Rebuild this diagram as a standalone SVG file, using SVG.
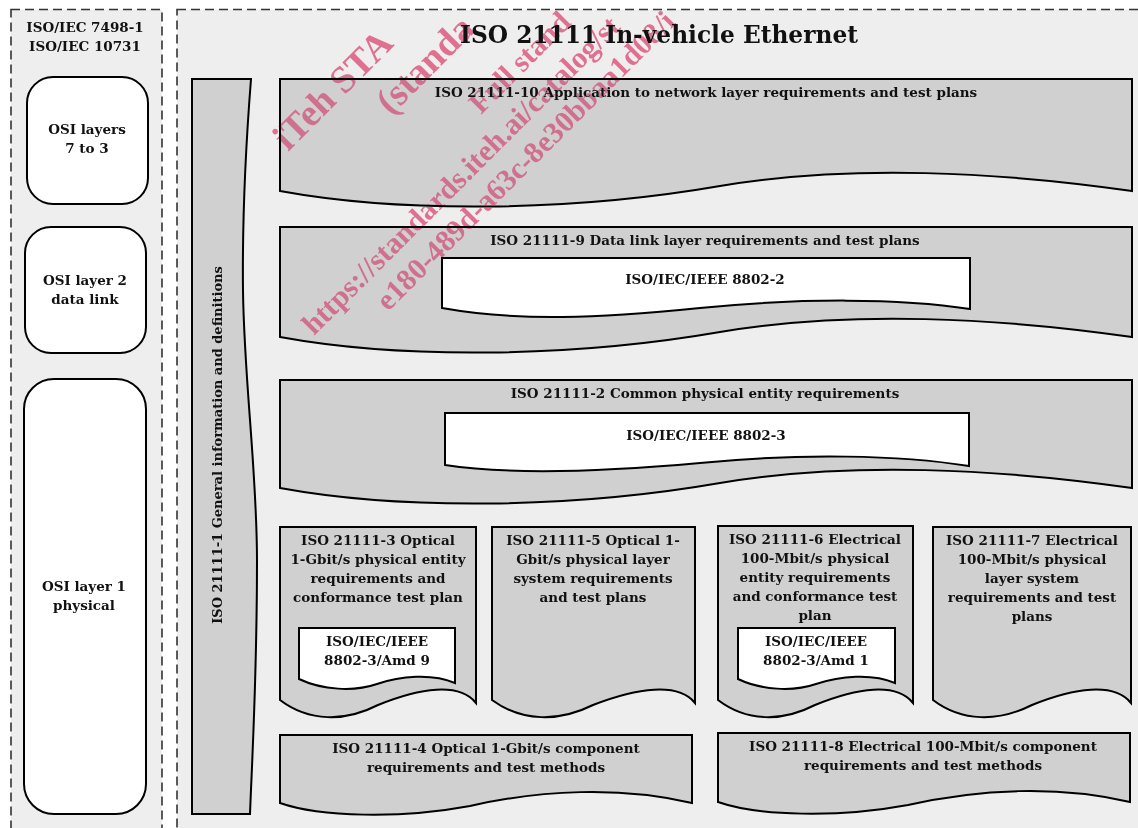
<svg xmlns="http://www.w3.org/2000/svg" width="1138" height="828" viewBox="0 0 1138 828">
<style>
.frame{fill:#eeeeee;stroke:#333333;stroke-width:1.6;stroke-dasharray:9 5}
.osi{fill:#ffffff;stroke:#000;stroke-width:2}
.doc{fill:#d0d0d0;stroke:#000;stroke-width:2}
.std{fill:#ffffff;stroke:#000;stroke-width:2}
text{font-family:"DejaVu Serif","Liberation Serif",serif;font-weight:bold;font-size:13.5px;fill:#111;text-anchor:middle}
text.title{font-size:23.3px}
text.vert{font-size:13px}
text.wm{font-family:"Liberation Serif","Times New Roman",serif;font-weight:bold;fill:#e0708f;text-anchor:start}
text.wl{font-size:38px}
text.ws{font-size:30px}
</style>
<rect width="1138" height="828" fill="#ffffff"/>
<g id="frame-osi">
<rect class="frame" x="11" y="9.5" width="151" height="840"/>
<text x="85" y="32">ISO/IEC 7498-1</text>
<text x="85" y="51">ISO/IEC 10731</text>
</g>
<g id="frame-iso21111">
<rect class="frame" x="177" y="9.5" width="990" height="840"/>
<text class="title" x="659" y="43">ISO 21111 In-vehicle Ethernet</text>
</g>
<g id="osi-7-3">
<rect class="osi" x="27" y="77" width="121" height="127" rx="26"/>
<text x="87" y="134">OSI layers</text>
<text x="87" y="153">7 to 3</text>
</g>
<g id="osi-2">
<rect class="osi" x="25" y="227" width="121" height="126" rx="26"/>
<text x="85" y="285">OSI layer 2</text>
<text x="85" y="304">data link</text>
</g>
<g id="osi-1">
<rect class="osi" x="24" y="379" width="122" height="435" rx="30"/>
<text x="84" y="591">OSI layer 1</text>
<text x="84" y="610">physical</text>
</g>
<g id="iso21111-1">
<path class="doc" d="M192,79 H251 C247,130 242,200 243,290 C244,380 257,470 257,560 C257,680 252,760 250,814 H192 Z"/>
<text class="vert" transform="translate(222,445) rotate(-90)">ISO 21111-1 General information and definitions</text>
</g>
<g id="iso21111-10">
<path class="doc" d="M280,79 H1132 V191 C1000,172 850,164 720,186 C570,212 400,213 280,191 Z"/>
<text x="706" y="97">ISO 21111-10 Application to network layer requirements and test plans</text>
</g>
<g id="iso21111-9">
<path class="doc" d="M280,227 H1132 V337 C1000,318 850,310 720,332 C570,358 400,359 280,337 Z"/>
<text x="705" y="245">ISO 21111-9 Data link layer requirements and test plans</text>
<g id="ieee8802-2">
<path class="std" d="M442,258 H970 V309 C900,298 800,298 700,308 C600,318 520,322 442,308 Z"/>
<text x="705" y="284">ISO/IEC/IEEE 8802-2</text>
</g>
</g>
<g id="iso21111-2">
<path class="doc" d="M280,380 H1132 V488 C1000,469 850,461 720,483 C570,509 400,510 280,488 Z"/>
<text x="705" y="398">ISO 21111-2 Common physical entity requirements</text>
<g id="ieee8802-3">
<path class="std" d="M445,413 H969 V466 C900,455 800,453 700,463 C600,472 510,475 445,465 Z"/>
<text x="706" y="440">ISO/IEC/IEEE 8802-3</text>
</g>
</g>
<g id="iso21111-3">
<path class="doc" d="M280,527 H476 V703 C459,682 420,688 378,705 C345,722 309,722 280,700 Z"/>
<text x="378" y="545">ISO 21111-3 Optical</text>
<text x="378" y="564">1-Gbit/s physical entity</text>
<text x="378" y="583">requirements and</text>
<text x="378" y="602">conformance test plan</text>
<g id="ieee8802-3-amd9">
<path class="std" d="M299,628 H455 V683 C432,673 400,676 377,684 C354,692 322,690 299,679 Z"/>
<text x="377" y="646">ISO/IEC/IEEE</text>
<text x="377" y="665">8802-3/Amd 9</text>
</g>
</g>
<g id="iso21111-5">
<path class="doc" d="M492,527 H695 V703 C678,682 637,688 593,705 C559,722 522,722 492,700 Z"/>
<text x="593" y="545">ISO 21111-5 Optical 1-</text>
<text x="593" y="564">Gbit/s physical layer</text>
<text x="593" y="583">system requirements</text>
<text x="593" y="602">and test plans</text>
</g>
<g id="iso21111-6">
<path class="doc" d="M718,526 H913 V703 C896,682 857,688 815,705 C782,722 747,722 718,700 Z"/>
<text x="815" y="544">ISO 21111-6 Electrical</text>
<text x="815" y="563">100-Mbit/s physical</text>
<text x="815" y="582">entity requirements</text>
<text x="815" y="601">and conformance test</text>
<text x="815" y="620">plan</text>
<g id="ieee8802-3-amd1">
<path class="std" d="M738,628 H895 V683 C872,673 840,676 816,684 C793,692 761,690 738,679 Z"/>
<text x="816" y="646">ISO/IEC/IEEE</text>
<text x="816" y="665">8802-3/Amd 1</text>
</g>
</g>
<g id="iso21111-7">
<path class="doc" d="M933,527 H1131 V703 C1114,682 1074,688 1032,705 C998,722 962,722 933,700 Z"/>
<text x="1032" y="545">ISO 21111-7 Electrical</text>
<text x="1032" y="564">100-Mbit/s physical</text>
<text x="1032" y="583">layer system</text>
<text x="1032" y="602">requirements and test</text>
<text x="1032" y="621">plans</text>
</g>
<g id="iso21111-4">
<path class="doc" d="M280,735 H692 V803 C620,786 540,790 470,806 C400,819 320,817 280,803 Z"/>
<text x="486" y="753">ISO 21111-4 Optical 1-Gbit/s component</text>
<text x="486" y="772">requirements and test methods</text>
</g>
<g id="iso21111-8">
<path class="doc" d="M718,733 H1130 V802 C1058,785 978,789 908,805 C838,818 758,816 718,802 Z"/>
<text x="923" y="751">ISO 21111-8 Electrical 100-Mbit/s component</text>
<text x="923" y="770">requirements and test methods</text>
</g>
<g id="connectors"></g>
<g id="watermark" style="mix-blend-mode:darken">
<text class="wm wl" transform="translate(288,152) rotate(-45)">iTeh STA</text>
<text class="wm wl" transform="translate(391,116) rotate(-45)">(standa</text>
<text class="wm ws" transform="translate(481,115) rotate(-45)">Full stand</text>
<text class="wm ws" transform="translate(314,336) rotate(-45)">https://standards.iteh.ai/catalog/st</text>
<text class="wm ws" transform="translate(388,312) rotate(-45)">e180-489d-a63c-8e30bbaa1d08/i</text>
</g>
</svg>
